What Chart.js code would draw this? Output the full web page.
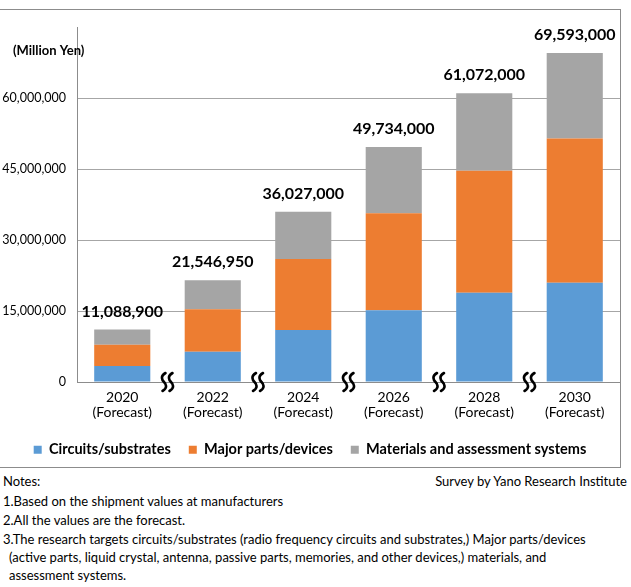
<!DOCTYPE html>
<html>
<head>
<meta charset="utf-8">
<script src="https://cdn.jsdelivr.net/npm/chart.js@4/dist/chart.umd.min.js"></script>
<style>
  body { margin: 0; background: #fff; font-family: Lato, sans-serif; color: #000; }
  #wrap { position: relative; width: 631px; height: 587px; overflow: hidden; }
  #box { position: absolute; left: -1px; top: 9px; width: 620px; height: 457px; border: 1px solid #8c8c8c; }
  #chartHolder { position: absolute; left: 0; top: 9px; width: 620px; height: 458px; }
  .note { position: absolute; font-size: 13px; white-space: nowrap; }
</style>
</head>
<body>
<div id="wrap">
  <div id="box"></div>
  <div id="chartHolder"><canvas id="c"></canvas></div>
  <div class="note" style="left:3px; top:473px;">Notes:</div>
  <div class="note" style="right:4px; top:473px;">Survey by Yano Research Institute</div>
  <div class="note" style="left:3px; top:493px;">1.Based on the shipment values at manufacturers</div>
  <div class="note" style="left:3px; top:512px;">2.All the values are the forecast.</div>
  <div class="note" style="left:3px; top:531px;">3.The research targets circuits/substrates (radio frequency circuits and substrates,) Major parts/devices</div>
  <div class="note" style="left:9px; top:549px;">(active parts, liquid crystal, antenna, passive parts, memories, and other devices,) materials, and</div>
  <div class="note" style="left:9px; top:567px;">assessment systems.</div>
</div>
<script>
const years = [['2020', '(Forecast)'], ['2022', '(Forecast)'], ['2024', '(Forecast)'], ['2026', '(Forecast)'], ['2028', '(Forecast)'], ['2030', '(Forecast)']];
const circuits = [3400000, 6400000, 11000000, 15200000, 18900000, 21000000];
const parts = [4500000, 9000000, 15000000, 20500000, 25800000, 30500000];
const materials = [3188900, 6146950, 10027000, 14034000, 16372000, 18093000];
const totals = [11088900, 21546950, 36027000, 49734000, 61072000, 69593000];
const yTicks = [0, 15000000, 30000000, 45000000, 60000000];

const fmt = v => v.toLocaleString('en-US');

// totals above bars, "(Million Yen)" unit, and break marks between bars
const extras = {
  id: 'extras',
  afterDatasetsDraw(chart) {
    const ctx = chart.ctx;
    const top = chart.getDatasetMeta(2);
    ctx.save();
    ctx.fillStyle = '#000';
    ctx.font = 'bold 16px Lato';
    ctx.textAlign = 'center';
    ctx.textBaseline = 'bottom';
    top.data.forEach((bar, i) => {
      ctx.fillText(fmt(totals[i]), bar.x, bar.y - 10);
    });

    ctx.font = 'bold 13px Lato';
    ctx.textAlign = 'left';
    ctx.textBaseline = 'middle';
    ctx.fillText('(Million Yen)', 13, 42);

    // squiggle marks
    const xs = chart.scales.x;
    const y0 = chart.scales.y.getPixelForValue(0);
    ctx.strokeStyle = '#000';
    ctx.lineWidth = 2.6;
    ctx.lineCap = 'round';
    for (let i = 0; i < years.length - 1; i++) {
      const mx = (xs.getPixelForValue(i) + xs.getPixelForValue(i + 1)) / 2;
      [-3.5, 3.5].forEach(dx => {
        const x = mx + dx;
        ctx.beginPath();
        ctx.moveTo(x + 1.5, y0 - 9);
        ctx.bezierCurveTo(x - 4, y0 - 6, x - 2, y0 - 2, x, y0);
        ctx.bezierCurveTo(x + 2, y0 + 2, x + 4, y0 + 6, x - 1.5, y0 + 9);
        ctx.stroke();
      });
    }
    ctx.restore();
  }
};

new Chart(document.getElementById('c'), {
  type: 'bar',
  data: {
    labels: years,
    datasets: [
      { label: 'Circuits/substrates', data: circuits, backgroundColor: '#5B9BD5' },
      { label: 'Major parts/devices', data: parts, backgroundColor: '#ED7D31' },
      { label: 'Materials and assessment systems', data: materials, backgroundColor: '#A5A5A5' }
    ]
  },
  options: {
    responsive: true,
    maintainAspectRatio: false,
    animation: false,
    devicePixelRatio: 1,
    layout: { padding: { top: 12, right: 0, bottom: 0, left: 0 } },
    datasets: { bar: { barPercentage: 0.62, categoryPercentage: 1 } },
    plugins: {
      tooltip: { enabled: false },
      legend: {
        position: 'bottom',
        labels: {
          boxWidth: 8, boxHeight: 8, padding: 18, color: '#000',
          font: { family: 'Lato', size: 14.5, weight: 'bold' }
        }
      }
    },
    scales: {
      x: {
        stacked: true,
        grid: { display: false, drawTicks: false },
        border: { color: '#8c8c8c' },
        ticks: { color: '#000', padding: 8, maxRotation: 0, font: { family: 'Lato', size: 14, lineHeight: 1.05 } },
        afterFit(s) { s.height = 42.5; }
      },
      y: {
        stacked: true,
        min: 0,
        max: 75000000,
        afterBuildTicks(s) { s.ticks = yTicks.map(v => ({ value: v })); },
        grid: { color: '#a6a6a6', drawTicks: false },
        border: { color: '#8c8c8c' },
        ticks: { color: '#000', padding: 11, callback: v => fmt(v), font: { family: 'Lato', size: 12.5 } },
        afterFit(s) { s.width = 77; }
      }
    }
  },
  plugins: [extras]
});
</script>
</body>
</html>
